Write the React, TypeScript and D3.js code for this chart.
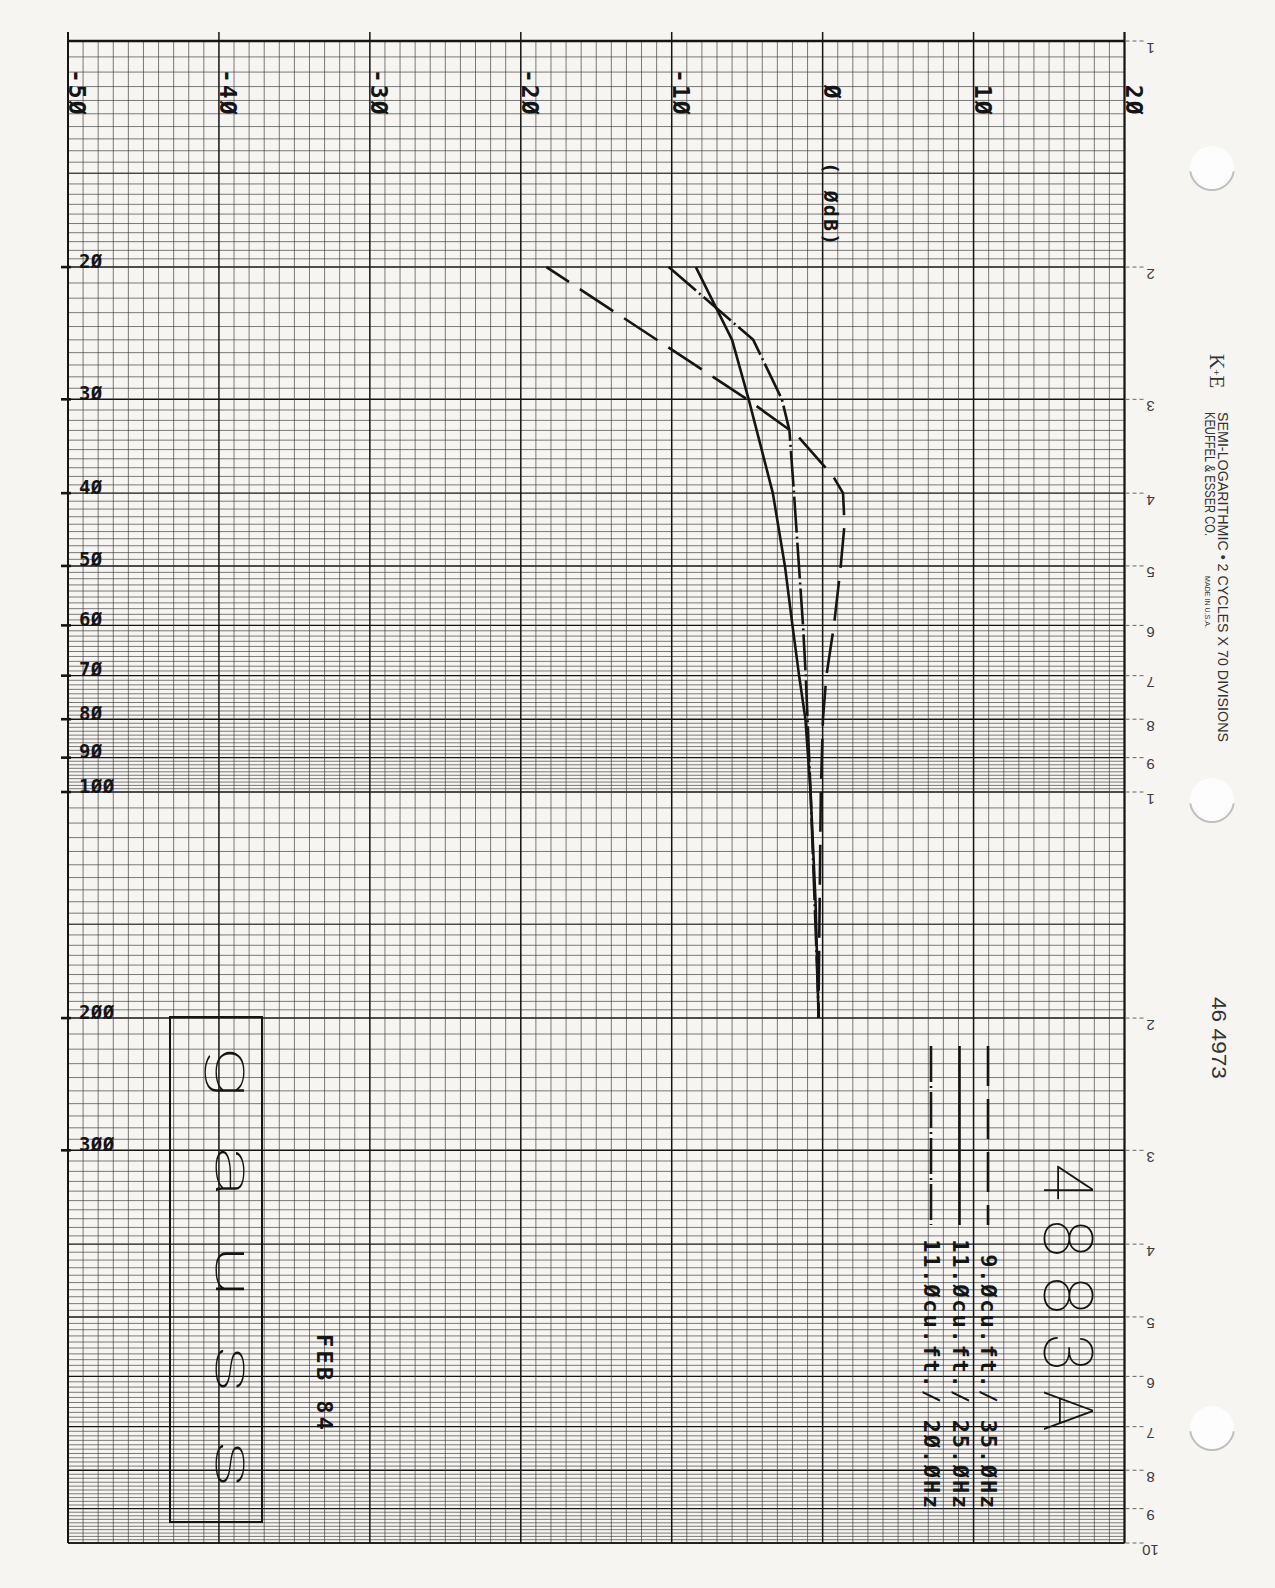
import React from "react";
import * as d3 from "d3";

// Measured response: frequency in Hz, level in dB relative to the 0 dB reference
const freq35 = [20, 30, 33.5, 38, 40, 44, 50, 60, 70, 80, 100, 200];
const level35 = [-18.3, -5.0, -1.7, 0.7, 1.35, 1.45, 1.2, 0.75, 0.25, 0.02, -0.12, -0.28];

const freq25 = [20, 25, 30, 40, 50, 60, 70, 80, 100, 140, 200];
const level25 = [-8.4, -6.0, -4.9, -3.3, -2.5, -2.0, -1.56, -1.14, -0.8, -0.47, -0.27];

const freq20 = [20, 25, 30, 33, 40, 50, 60, 70, 80, 100, 200];
const level20 = [-10.2, -4.6, -2.7, -2.2, -1.9, -1.57, -1.3, -1.12, -1.0, -0.8, -0.25];

const legendLabels = ["9.Øcu.ft./ 35.ØHz", "11.Øcu.ft./ 25.ØHz", "11.Øcu.ft./ 2Ø.ØHz"];

// Level axis (plotted across the sheet)
const dbTicks = [-50, -40, -30, -20, -10, 0, 10, 20];
const dbTickText = ["-5Ø", "-4Ø", "-3Ø", "-2Ø", "-1Ø", " Ø", " 1Ø", " 2Ø"];

// Frequency axis (plotted down the sheet)
const freqTicks = [20, 30, 40, 50, 60, 70, 80, 90, 100, 200, 300];
const freqTickText = ["2Ø", "3Ø", "4Ø", "5Ø", "6Ø", "7Ø", "8Ø", "9Ø", "1ØØ", "2ØØ", "3ØØ"];

// Printed cycle numbers of the semi-log sheet
const cycleValues = [10, 20, 30, 40, 50, 60, 70, 80, 90, 100, 200, 300, 400, 500, 600, 700, 800, 900, 1000];
const cycleText = ["1", "2", "3", "4", "5", "6", "7", "8", "9", "1", "2", "3", "4", "5", "6", "7", "8", "9", "10"];

const W = 1275;
const H = 1588;
const PLOT = { left: 68, right: 1124.5, top: 41, bottom: 1543 };

const INK = "#151515";
const PAPER = "#f6f5f2";
const MONO = "'DejaVu Sans Mono', monospace";
const SANS = "'Liberation Sans', Arial, sans-serif";
const THIN = "Roboto, 'Noto Sans', sans-serif";

const x = d3.scaleLinear().domain([-50, 20]).range([PLOT.left, PLOT.right]);
const y = d3.scaleLog().domain([10, 1000]).range([PLOT.top, PLOT.bottom]);

const isCycle = (f: number) => cycleValues.some((c) => Math.abs(c - f) < 1e-6);

// Paper ruling: half-units in the first half cycle, tenths up to 10, then the same in the second cycle
const minorFreqs = [
  ...d3.range(10.5, 20, 0.5),
  ...d3.range(21, 100, 1),
  ...d3.range(105, 200, 5),
  ...d3.range(210, 1000, 10),
].filter((f) => !isCycle(f));
const mediumFreqs = [15, 150];
const dbLines = d3.range(-50, 21, 1);

type Series = { freq: number[]; level: number[]; dash: string | undefined; offset: number };
const series: Series[] = [
  { freq: freq35, level: level35, dash: "40 13", offset: 13 },
  { freq: freq25, level: level25, dash: undefined, offset: 0 },
  { freq: freq20, level: level20, dash: "36 4 2 4", offset: 0 },
];

const line = d3
  .line<[number, number]>()
  .x((d) => x(d[1]))
  .y((d) => y(d[0]));

function Rot90({ tx, ty, children, ...rest }: any) {
  return (
    <text transform={`translate(${tx},${ty}) rotate(90)`} {...rest}>
      {children}
    </text>
  );
}

export default function App() {
  return (
    <svg
      width={W}
      height={H}
      viewBox={`0 0 ${W} ${H}`}
      style={{ position: "absolute", left: 0, top: 0, background: PAPER }}
    >
      <rect x={0} y={0} width={W} height={H} fill={PAPER} />

      {/* sheet ruling */}
      <g>
        {minorFreqs.map((f) => (
          <line key={`hf${f}`} x1={PLOT.left} x2={PLOT.right} y1={y(f)} y2={y(f)} stroke="#333" strokeWidth={0.75} strokeOpacity={0.85} />
        ))}
        {mediumFreqs.map((f) => (
          <line key={`hm${f}`} x1={PLOT.left} x2={PLOT.right} y1={y(f)} y2={y(f)} stroke="#2a2a2a" strokeWidth={1} />
        ))}
        {cycleValues.map((f) => (
          <line key={`hc${f}`} x1={PLOT.left} x2={PLOT.right} y1={y(f)} y2={y(f)} stroke="#141414" strokeWidth={1.4} />
        ))}
        {dbLines.map((v) => {
          const major = v % 10 === 0;
          return (
            <line
              key={`v${v}`}
              x1={x(v)}
              x2={x(v)}
              y1={major ? PLOT.top - 9 : PLOT.top}
              y2={PLOT.bottom}
              stroke={major ? "#141414" : "#333"}
              strokeWidth={major ? 1.5 : 0.75}
              strokeOpacity={major ? 1 : 0.85}
            />
          );
        })}
        <line x1={PLOT.left} x2={PLOT.right} y1={PLOT.top} y2={PLOT.top} stroke={INK} strokeWidth={2.4} />
        <line x1={PLOT.left} x2={PLOT.right} y1={PLOT.bottom} y2={PLOT.bottom} stroke={INK} strokeWidth={1.6} />
        <line x1={PLOT.left} x2={PLOT.left} y1={PLOT.top - 9} y2={PLOT.bottom} stroke={INK} strokeWidth={2} />
        <line x1={PLOT.right} x2={PLOT.right} y1={PLOT.top - 9} y2={PLOT.bottom} stroke={INK} strokeWidth={2} />
      </g>

      {/* printed cycle numbers on the sheet edge */}
      <g>
        {cycleValues.map((f, i) => (
          <g key={`cy${i}`}>
            <line x1={PLOT.right + 1} x2={PLOT.right + 19} y1={y(f)} y2={y(f)} stroke="#555" strokeWidth={0.9} strokeDasharray="4 3" />
            <text
              transform={`translate(${PLOT.right + 26},${y(f) + 7}) rotate(180)`}
              textAnchor="middle"
              dominantBaseline="central"
              fontFamily={SANS}
              fontSize={15}
              fill="#3c3c3c"
            >
              {cycleText[i]}
            </text>
          </g>
        ))}
      </g>

      {/* sheet maker imprint */}
      <g fill="#333" fontFamily={SANS}>
        <Rot90 tx={1210} ty={354} fontFamily="'Liberation Serif', serif" fontSize={21}>
          K<tspan fontSize={11} dy={-3}>+</tspan>
          <tspan dy={3}>E</tspan>
        </Rot90>
        <Rot90 tx={1218} ty={412} fontSize={14} textLength={330} lengthAdjust="spacingAndGlyphs">
          SEMI-LOGARITHMIC • 2 CYCLES X 70 DIVISIONS
        </Rot90>
        <Rot90 tx={1205} ty={412} fontSize={14} textLength={124} lengthAdjust="spacingAndGlyphs">
          KEUFFEL &amp; ESSER CO.
        </Rot90>
        <Rot90 tx={1205} ty={576} fontSize={8} textLength={52} lengthAdjust="spacingAndGlyphs">
          MADE IN U.S.A.
        </Rot90>
        <Rot90 tx={1212} ty={997} fontSize={21} textLength={82} lengthAdjust="spacingAndGlyphs">
          46 4973
        </Rot90>
      </g>

      {/* binder holes */}
      <g>
        {[168, 800, 1428].map((cy) => (
          <g key={`hole${cy}`}>
            <circle cx={1212} cy={cy} r={22} fill="#fdfdfd" />
            <path
              d={d3.arc()({ innerRadius: 21, outerRadius: 23, startAngle: Math.PI * 0.55, endAngle: Math.PI * 1.45 }) as string}
              transform={`translate(1212,${cy})`}
              fill="#9a9a9a"
              fillOpacity={0.6}
            />
          </g>
        ))}
      </g>

      {/* level axis labels */}
      <g fontFamily={MONO} fontWeight="bold" fill={INK}>
        {dbTicks.map((v, i) => (
          <Rot90 key={`db${v}`} tx={x(v) + 1} ty={69} fontSize={23} letterSpacing={2} style={{ whiteSpace: "pre" }}>
            {dbTickText[i]}
          </Rot90>
        ))}
        <Rot90 tx={x(0) + 1} ty={162} fontSize={20} letterSpacing={2.2} style={{ whiteSpace: "pre" }}>
          ( ØdB)
        </Rot90>
      </g>

      {/* frequency axis labels */}
      <g fontFamily={MONO} fontWeight="bold" fill={INK}>
        {freqTicks.map((f, i) => (
          <g key={`fq${f}`}>
            <line x1={PLOT.left - 7} x2={PLOT.left + 3} y1={y(f)} y2={y(f)} stroke={INK} strokeWidth={2.6} />
            <text x={79} y={y(f) + 0.5} fontSize={19} letterSpacing={0.4}>
              {freqTickText[i]}
            </text>
          </g>
        ))}
      </g>

      {/* response curves */}
      <g fill="none" stroke={INK} strokeWidth={2.6} strokeLinejoin="round">
        {series.map((s, i) => (
          <path
            key={`curve${i}`}
            d={line(s.freq.map((f, k) => [f, s.level[k]] as [number, number])) as string}
            strokeDasharray={s.dash}
            strokeDashoffset={s.offset}
          />
        ))}
      </g>

      {/* legend */}
      <g>
        {series.map((s, i) => {
          const lx = 988 - i * 28.5;
          return (
            <g key={`leg${i}`}>
              <line x1={lx} x2={lx} y1={1046} y2={1225} stroke={INK} strokeWidth={2.6} strokeDasharray={s.dash} />
              <Rot90
                tx={lx - 7}
                ty={1510}
                textAnchor="end"
                fontFamily={MONO}
                fontWeight="bold"
                fontSize={22}
                letterSpacing={1.8}
                fill={INK}
              >
                {legendLabels[i]}
              </Rot90>
            </g>
          );
        })}
      </g>

      {/* model number */}
      <Rot90 tx={1044} ty={1163} fontFamily={THIN} fontWeight={100} fontSize={68} textLength={268} lengthAdjust="spacing" fill={INK}>
        4883A
      </Rot90>

      {/* maker name box */}
      <rect x={170} y={1017} width={92} height={505} fill="none" stroke={INK} strokeWidth={2} />
      <text
        transform="translate(216,1046) rotate(90) scale(1.9,1)"
        fontFamily={THIN}
        fontWeight={100}
        fontSize={52}
        textLength={233}
        lengthAdjust="spacing"
        fill={INK}
      >
        gauss
      </text>

      {/* date */}
      <Rot90 tx={317} ty={1334} fontFamily={MONO} fontWeight="bold" fontSize={22} textLength={96} lengthAdjust="spacing" fill={INK} style={{ whiteSpace: "pre" }}>
        FEB 84
      </Rot90>
    </svg>
  );
}
